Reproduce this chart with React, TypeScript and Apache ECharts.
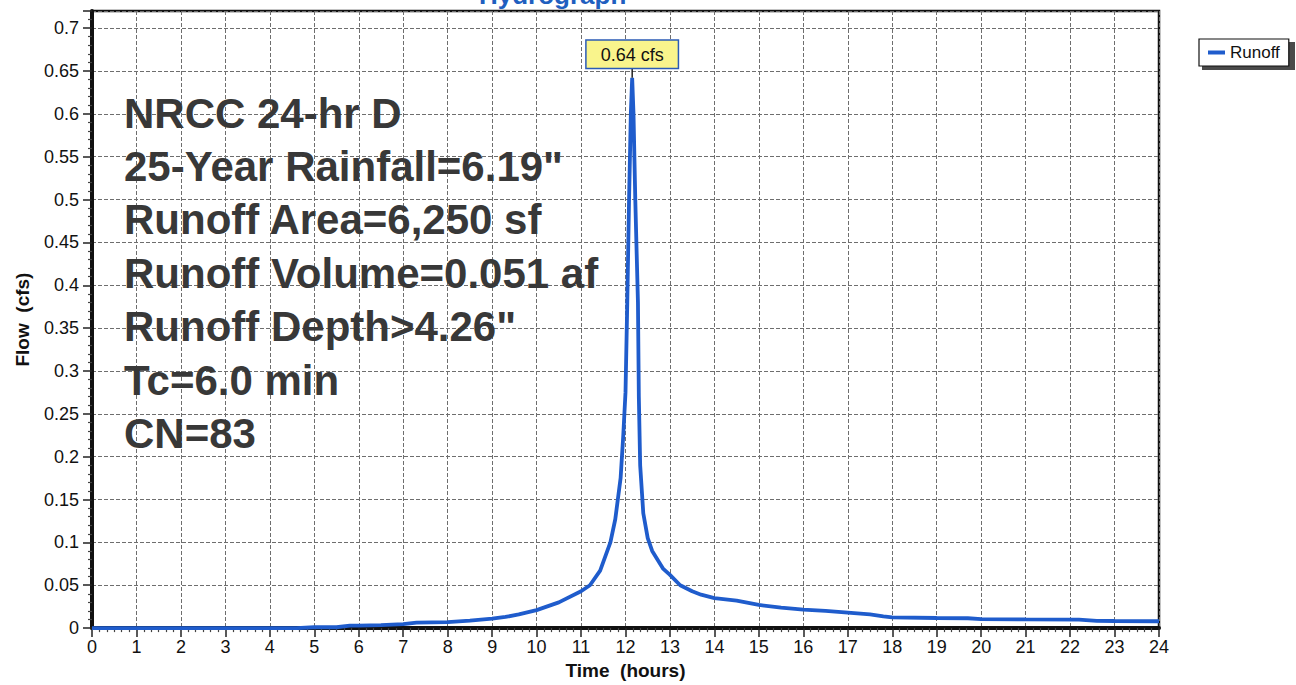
import React, { useEffect, useRef } from "react";
import * as echarts from "echarts";

// ---- data ----
const hours = [
  0, 4.6, 5.0, 5.5, 5.8, 6.0, 6.5, 7.0, 7.3, 8.0, 8.5, 9.0, 9.3, 9.6, 10.0, 10.5, 11.0, 11.2, 11.43,
  11.66, 11.77, 11.89, 11.95, 12.0, 12.04, 12.08, 12.12, 12.15, 12.18, 12.22, 12.28, 12.3, 12.33,
  12.4, 12.5, 12.6, 12.85, 13.0, 13.23, 13.5, 13.7, 14.0, 14.5, 15.0, 15.5, 16.0, 16.5, 17.0, 17.5,
  17.8, 18.0, 19.0, 19.7, 20.0, 21.0, 22.2, 22.6, 23.0, 24.0,
];
const flow = [
  0, 0, 0.001, 0.001, 0.003, 0.003, 0.0035, 0.0046, 0.0065, 0.007, 0.0088, 0.011, 0.013, 0.016,
  0.021, 0.03, 0.043, 0.05, 0.067, 0.1, 0.127, 0.175, 0.225, 0.275, 0.38, 0.5, 0.6, 0.642, 0.6,
  0.5, 0.38, 0.27, 0.19, 0.134, 0.105, 0.09, 0.069, 0.062, 0.05, 0.043, 0.039, 0.035, 0.032, 0.027,
  0.024, 0.0216, 0.02, 0.018, 0.016, 0.0136, 0.0125, 0.0118, 0.0115, 0.0105, 0.0102, 0.01, 0.0085,
  0.0083, 0.008,
];
const infoLines = [
  "NRCC 24-hr D",
  '25-Year Rainfall=6.19"',
  "Runoff Area=6,250 sf",
  "Runoff Volume=0.051 af",
  'Runoff Depth>4.26"',
  "Tc=6.0 min",
  "CN=83",
];
const seriesName = "Runoff";
const chartTitle = "Hydrograph";
const xTitle = "Time  (hours)";
const yTitle = "Flow  (cfs)";

const FONT = "'Liberation Sans', Arial, Helvetica, sans-serif";
const BLUE = "#1f5ccc";

export default function App() {
  const ref = useRef<HTMLDivElement>(null);
  useEffect(() => {
    if (!ref.current) return;
    const chart = echarts.init(ref.current, null, { renderer: "svg" });
    const data = hours.map((h, i) => [h, flow[i]]);
    let pi = 0;
    flow.forEach((v, i) => {
      if (v > flow[pi]) pi = i;
    });
    const peakX = hours[pi];
    const peakY = flow[pi];

    const graphic: any[] = [
      {
        type: "text",
        x: 479,
        y: -5,
        silent: true,
        style: { text: chartTitle, font: `bold 26px ${FONT}`, fill: "#1f5fbf", align: "left", verticalAlign: "middle" },
      },
      {
        type: "rect",
        z: 0,
        silent: true,
        shape: { x: 1202, y: 42, width: 93, height: 28 },
        style: { fill: "#4a4a4a" },
      },
      ...infoLines.map((t, i) => ({
        type: "text",
        x: 124,
        y: 127 + i * 53.4 - 14,
        silent: true,
        z: 5,
        style: { text: t, font: `bold 42px ${FONT}`, fill: "#383838", align: "left", verticalAlign: "middle" },
      })),
    ];

    chart.setOption({
      animation: false,
      backgroundColor: "#ffffff",
      textStyle: { fontFamily: FONT },
      grid: {
        left: 92,
        top: 11,
        width: 1067,
        height: 620,
        show: true,
        borderColor: "#111",
        borderWidth: 2.5,
        backgroundColor: "transparent",
      },
      legend: {
        left: 1199,
        top: 39,
        orient: "vertical",
        backgroundColor: "#ffffff",
        borderColor: "#111",
        borderWidth: 1.2,
        padding: [5, 9],
        itemWidth: 17,
        itemHeight: 4,
        icon: "rect",
        textStyle: { fontSize: 17, color: "#111", fontFamily: FONT },
        data: [{ name: seriesName, itemStyle: { color: BLUE } }],
      },
      xAxis: {
        type: "value",
        min: 0,
        max: 24,
        interval: 1,
        name: xTitle,
        nameLocation: "middle",
        nameGap: 32,
        nameTextStyle: { fontSize: 19, fontWeight: "bold", color: "#111", fontFamily: FONT },
        axisLine: { show: true, onZero: false, lineStyle: { color: "#111", width: 4 } },
        axisTick: { show: true, length: 9, lineStyle: { color: "#222", width: 1.5 } },
        minorTick: { show: true, splitNumber: 6, length: 4, lineStyle: { color: "#444", width: 1.2 } },
        axisLabel: { fontSize: 18, color: "#111", margin: 10, fontFamily: FONT },
        splitLine: { show: true, lineStyle: { color: "#6e6e6e", width: 1, type: [4, 2] } },
      },
      yAxis: {
        type: "value",
        min: 0,
        max: 0.72,
        interval: 0.05,
        name: yTitle,
        nameLocation: "middle",
        nameGap: 60,
        nameRotate: 90,
        nameTextStyle: { fontSize: 19, fontWeight: "bold", color: "#111", fontFamily: FONT },
        axisLine: { show: true, lineStyle: { color: "#111", width: 4 } },
        axisTick: { show: true, length: 9, lineStyle: { color: "#222", width: 1.5 } },
        minorTick: { show: true, splitNumber: 5, length: 4, lineStyle: { color: "#444", width: 1.2 } },
        axisLabel: { fontSize: 18, color: "#111", margin: 13, showMaxLabel: false, fontFamily: FONT },
        splitLine: { show: true, lineStyle: { color: "#6e6e6e", width: 1, type: [4, 2] } },
      },
      series: [
        {
          type: "line",
          name: seriesName,
          data,
          showSymbol: false,
          symbol: "none",
          lineStyle: { color: BLUE, width: 3.8 },
          itemStyle: { color: BLUE },
          z: 3,
          markPoint: {
            silent: true,
            symbol: "rect",
            symbolSize: [1.4, 10],
            symbolOffset: [0, -5],
            itemStyle: { color: "#111" },
            label: {
              show: true,
              position: "top",
              distance: 0,
              formatter: `${peakY.toFixed(2)} cfs`,
              color: "#111",
              fontSize: 18,
              fontFamily: FONT,
              backgroundColor: "#f9f48c",
              borderColor: "#2b5bb5",
              borderWidth: 1.5,
              padding: [5, 14, 4, 14],
            },
            data: [{ coord: [peakX, peakY] }],
          },
        },
      ],
      graphic,
    });
    return () => chart.dispose();
  }, []);
  return (
    <div
      ref={ref}
      style={{ position: "fixed", left: 0, top: 0, width: 1296, height: 685, background: "#fff" }}
    />
  );
}
